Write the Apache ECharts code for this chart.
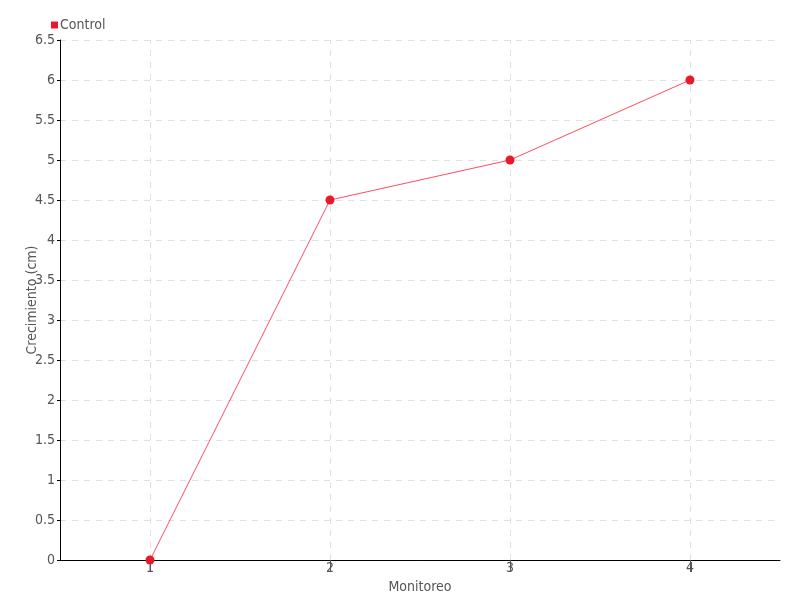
<!DOCTYPE html>
<html><head><meta charset="utf-8">
<script src="https://cdn.jsdelivr.net/npm/echarts@6/dist/echarts.min.js"></script>
<style>html,body{margin:0;padding:0;background:#fff}#c{width:800px;height:600px}</style>
</head><body><div id="c"></div>
<script>
const categories = ['1', '2', '3', '4'];
const seriesName = 'Control';
const controlValues = [0, 4.5, 5, 6];
const yTicks = {min: 0, max: 6.5, interval: 0.5};

const font = '"DejaVu Sans Condensed", "Liberation Sans Narrow", sans-serif';
const gridColor = '#e0e0e0';
const chart = echarts.init(document.getElementById('c'), null, {renderer: 'canvas'});
chart.setOption({
  animation: false,
  backgroundColor: '#fff',
  textStyle: {fontFamily: font},
  legend: {
    left: 46, top: 13,
    itemWidth: 7, itemHeight: 7, itemGap: 2,
    icon: 'rect',
    textStyle: {fontFamily: font, fontSize: 14, color: '#555', padding: [0,0,0,-3]},
    data: [{name: seriesName, itemStyle: {color: '#e8192c'}}]
  },
  grid: {left: 60, right: 20, top: 40, bottom: 40, containLabel: false},
  xAxis: {
    type: 'category', data: categories, boundaryGap: true,
    name: 'Monitoreo', nameLocation: 'middle', nameGap: 20, nameMoveOverlap: false,
    nameTextStyle: {fontFamily: font, fontSize: 14, color: '#555'},
    axisLine: {lineStyle: {color: '#000', width: 1}},
    axisTick: {show: true, alignWithLabel: true, length: 12, lineStyle: {color: '#555'}},
    axisLabel: {fontFamily: font, fontSize: 14, color: '#555', margin: 1},
    splitLine: {show: false}
  },
  yAxis: {
    type: 'value', min: yTicks.min, max: yTicks.max, interval: yTicks.interval,
    name: 'Crecimiento (cm)', nameLocation: 'middle', nameGap: 21, nameMoveOverlap: false,
    nameTextStyle: {fontFamily: font, fontSize: 14, color: '#555'},
    axisLine: {show: true, lineStyle: {color: '#000', width: 1}},
    axisTick: {show: true, length: 3, lineStyle: {color: '#000'}},
    axisLabel: {fontFamily: font, fontSize: 14, color: '#555', margin: 5},
    splitLine: {show: true, lineStyle: {color: gridColor, type: [6, 6]}}
  },
  series: [{
    name: '_grid', type: 'line', data: [], z: 0, silent: true,
    markLine: {
      z: 0, silent: true, symbol: 'none', label: {show: false},
      lineStyle: {color: gridColor, type: [6, 6], width: 1},
      emphasis: {disabled: true},
      data: categories.map(c => ({xAxis: c}))
    }
  }, {
    name: seriesName, type: 'line', data: controlValues, z: 3,
    symbol: 'circle', symbolSize: 9,
    itemStyle: {color: '#e8192c'},
    lineStyle: {color: '#ff4d5e', width: 1}
  }]
});
</script></body></html>
